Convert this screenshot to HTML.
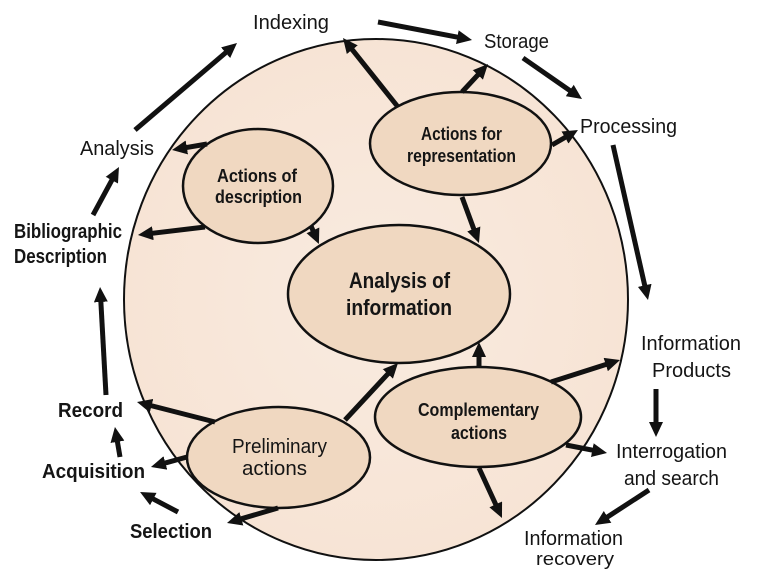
<!DOCTYPE html>
<html>
<head>
<meta charset="utf-8">
<style>
  html, body { margin: 0; padding: 0; background: #ffffff; }
  svg { display: block; }
  text { font-family: "Liberation Sans", sans-serif; fill: #151515; }
  .b { font-weight: bold; }
</style>
</head>
<body>
<svg width="768" height="583" viewBox="0 0 768 583" xmlns="http://www.w3.org/2000/svg">
  <defs>
    <marker id="ah" markerUnits="userSpaceOnUse" markerWidth="16" markerHeight="14" refX="5" refY="7" orient="auto">
      <path d="M0,0 L15,7 L0,14 z" fill="#111"/>
    </marker>
    <radialGradient id="bg" cx="0.5" cy="0.5" r="0.5">
      <stop offset="0" stop-color="#f9ebe0"/>
      <stop offset="1" stop-color="#f7e4d5"/>
    </radialGradient>
  </defs>

  <rect width="768" height="583" fill="#ffffff"/>

  <!-- big circle -->
  <ellipse cx="376" cy="299.5" rx="252" ry="260.5" fill="url(#bg)" stroke="#111" stroke-width="2"/>

  <!-- inner ellipses -->
  <g fill="#f0d8c1" stroke="#111" stroke-width="2.5">
    <ellipse cx="258" cy="186" rx="75" ry="57"/>
    <ellipse cx="460.5" cy="143.5" rx="90.5" ry="51.5"/>
    <ellipse cx="399" cy="294" rx="111" ry="69"/>
    <ellipse cx="278.5" cy="457.5" rx="91.5" ry="50.5"/>
    <ellipse cx="478" cy="417" rx="103" ry="50"/>
  </g>

  <!-- arrows -->
  <g stroke="#111" stroke-width="5" fill="none" marker-end="url(#ah)">
    <line x1="135" y1="130" x2="229.4" y2="49.5"/>
    <line x1="378" y1="22" x2="462.2" y2="38.1"/>
    <line x1="523" y1="58" x2="573.8" y2="93.3"/>
    <line x1="613" y1="145" x2="645.8" y2="290.2"/>
    <line x1="656" y1="389" x2="656" y2="427"/>
    <line x1="649" y1="490" x2="603.4" y2="519.6"/>
    <line x1="178" y1="512" x2="148.9" y2="496.7"/>
    <line x1="120" y1="457" x2="116.6" y2="436.9"/>
    <line x1="106" y1="395" x2="100.6" y2="297"/>
    <line x1="93" y1="215" x2="114.2" y2="175.8"/>

    <line x1="207" y1="144" x2="181.9" y2="148.3"/>
    <line x1="205" y1="227" x2="147.9" y2="233.8"/>
    <line x1="311" y1="226" x2="314.9" y2="234.9"/>
    <line x1="398" y1="107" x2="349.2" y2="45.8"/>
    <line x1="462" y1="92" x2="481.2" y2="71.3"/>
    <line x1="552" y1="145" x2="569.3" y2="135"/>
    <line x1="462" y1="197" x2="475.5" y2="233.6"/>
    <line x1="215" y1="422" x2="146.7" y2="404.5"/>
    <line x1="187" y1="457" x2="160.6" y2="464.3"/>
    <line x1="278" y1="508" x2="236.6" y2="520.2"/>
    <line x1="345" y1="420" x2="391.2" y2="370.3"/>
    <line x1="479" y1="367" x2="479" y2="352"/>
    <line x1="551" y1="382" x2="610.5" y2="363"/>
    <line x1="566" y1="445" x2="597.2" y2="451.1"/>
    <line x1="479" y1="468" x2="497.8" y2="508.9"/>
  </g>

  <!-- outer labels -->
  <g font-size="20">
    <text x="253" y="29" textLength="76" lengthAdjust="spacingAndGlyphs">Indexing</text>
    <text x="484" y="48" textLength="65" lengthAdjust="spacingAndGlyphs">Storage</text>
    <text x="580" y="133" textLength="97" lengthAdjust="spacingAndGlyphs">Processing</text>
    <text x="80" y="155" textLength="74" lengthAdjust="spacingAndGlyphs">Analysis</text>
    <text class="b" x="14" y="238" textLength="108" lengthAdjust="spacingAndGlyphs">Bibliographic</text>
    <text class="b" x="14" y="263" textLength="93" lengthAdjust="spacingAndGlyphs">Description</text>
    <text class="b" x="58" y="417" textLength="65" lengthAdjust="spacingAndGlyphs">Record</text>
    <text class="b" x="42" y="478" textLength="103" lengthAdjust="spacingAndGlyphs">Acquisition</text>
    <text class="b" x="130" y="538" textLength="82" lengthAdjust="spacingAndGlyphs">Selection</text>
    <text x="641" y="350" textLength="100" lengthAdjust="spacingAndGlyphs">Information</text>
    <text x="652" y="377" textLength="79" lengthAdjust="spacingAndGlyphs">Products</text>
    <text x="616" y="458" textLength="111" lengthAdjust="spacingAndGlyphs">Interrogation</text>
    <text x="624" y="485" textLength="95" lengthAdjust="spacingAndGlyphs">and search</text>
    <text x="524" y="545" textLength="99" lengthAdjust="spacingAndGlyphs">Information</text>
    <text x="536" y="565" font-size="18" textLength="78" lengthAdjust="spacingAndGlyphs">recovery</text>
  </g>

  <!-- ellipse labels -->
  <g font-size="18">
    <text class="b" x="217" y="182" textLength="80" lengthAdjust="spacingAndGlyphs">Actions of</text>
    <text class="b" x="215" y="203" textLength="87" lengthAdjust="spacingAndGlyphs">description</text>
    <text class="b" x="421" y="140" textLength="81" lengthAdjust="spacingAndGlyphs">Actions for</text>
    <text class="b" x="407" y="162" textLength="109" lengthAdjust="spacingAndGlyphs">representation</text>
    <text class="b" x="418" y="416" textLength="121" lengthAdjust="spacingAndGlyphs">Complementary</text>
    <text class="b" x="451" y="439" textLength="56" lengthAdjust="spacingAndGlyphs">actions</text>
    <text x="232" y="453" font-size="20" textLength="95" lengthAdjust="spacingAndGlyphs">Preliminary</text>
    <text x="242" y="475" font-size="20" textLength="65" lengthAdjust="spacingAndGlyphs">actions</text>
    <text class="b" x="349" y="288" font-size="22" textLength="101" lengthAdjust="spacingAndGlyphs">Analysis of</text>
    <text class="b" x="346" y="315" font-size="22" textLength="106" lengthAdjust="spacingAndGlyphs">information</text>
  </g>
</svg>
</body>
</html>
